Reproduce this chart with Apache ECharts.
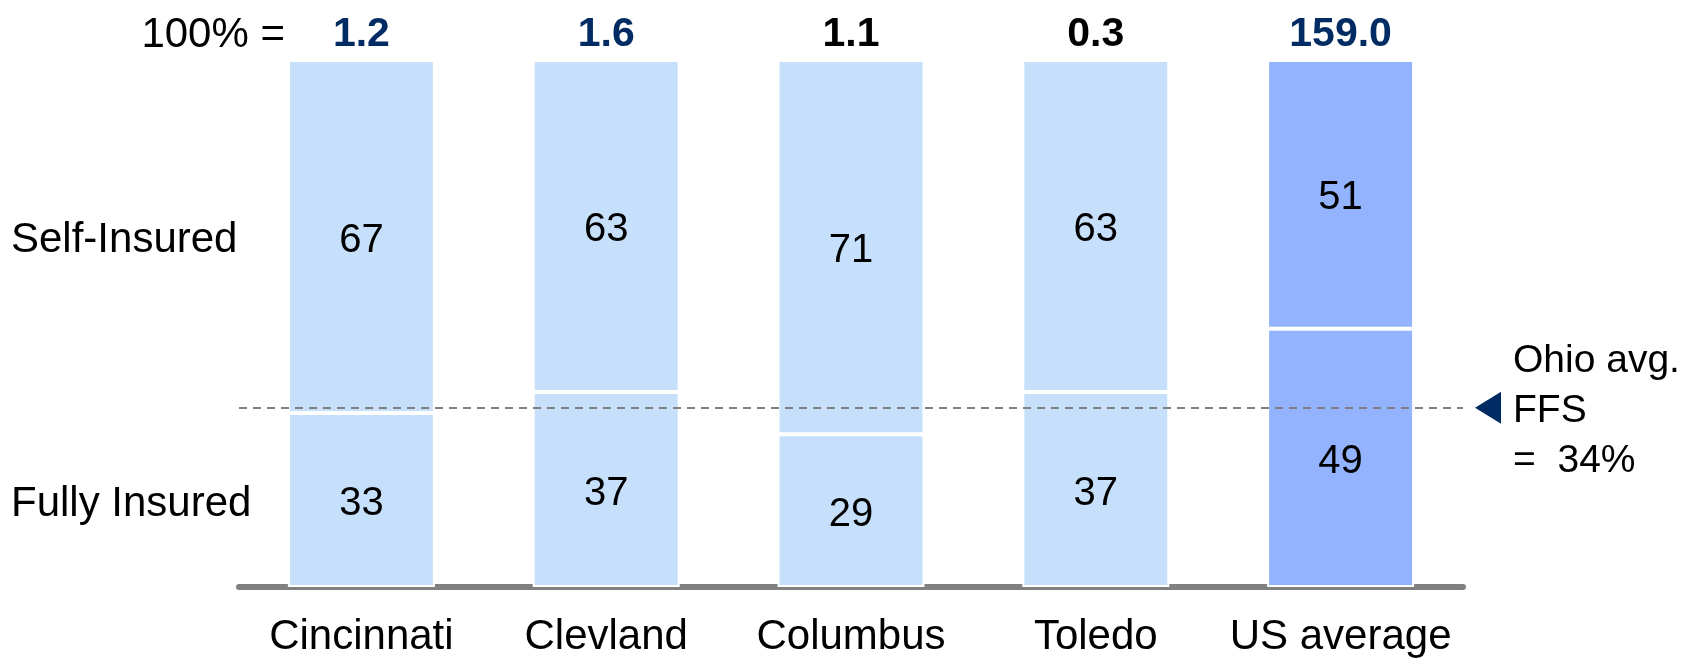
<!DOCTYPE html>
<html>
<head>
<meta charset="utf-8">
<script src="https://cdn.jsdelivr.net/npm/echarts@6/dist/echarts.min.js"></script>
<style>
  html, body { margin: 0; padding: 0; background: #ffffff; }
  #chart { width: 1696px; height: 658px; }
</style>
</head>
<body>
<div id="chart"></div>
<script>
// Market share of fully insured vs. self-insured lives, percent of 100%
const categories = ['Cincinnati', 'Clevland', 'Columbus', 'Toledo', 'US average'];
const totals = ['1.2', '1.6', '1.1', '0.3', '159.0'];
const fullyInsured = [33, 37, 29, 37, 49];
const selfInsured = [67, 63, 71, 63, 51];
const ohioAvgFFS = 34;
const rowLabels = ['Self-Insured', 'Fully Insured'];
const totalsPrefix = '100% =';
const ohioNoteLines = ['Ohio avg.', 'FFS', '=  ' + ohioAvgFFS + '%'];

// Styling
const FONT = '"Liberation Sans", Arial, Helvetica, sans-serif';
const NAVY = '#002B63';
const LIGHT_BAR = '#C6E0FB';
const US_BAR = '#94B3FF';
const totalColors = [NAVY, NAVY, '#000000', '#000000', NAVY];

const chart = echarts.init(document.getElementById('chart'), null, { renderer: 'canvas' });

function barData(values) {
  return values.map((v, i) => ({
    value: v,
    itemStyle: { color: i === categories.length - 1 ? US_BAR : LIGHT_BAR }
  }));
}

const segmentLabel = {
  show: true,
  position: 'inside',
  offset: [0, 4],
  fontSize: 40,
  color: '#000000',
  fontFamily: FONT
};

chart.setOption({
  animation: false,
  backgroundColor: '#ffffff',
  grid: { left: 239, right: 233, top: 60, bottom: 71, containLabel: false },
  xAxis: [
    {
      type: 'category',
      data: categories,
      position: 'bottom',
      axisLine: { show: true, lineStyle: { color: '#808080', width: 6 } },
      axisTick: { show: false },
      axisLabel: { interval: 0, fontSize: 42, color: '#000000', margin: 29, fontFamily: FONT }
    },
    {
      type: 'category',
      data: totals.map((t, i) => ({ value: t, textStyle: { color: totalColors[i] } })),
      position: 'top',
      axisLine: { show: false },
      axisTick: { show: false },
      axisLabel: { interval: 0, fontSize: 41, fontWeight: 'bold', margin: 5, fontFamily: FONT }
    }
  ],
  yAxis: { type: 'value', min: 0, max: 100, show: false },
  series: [
    {
      name: rowLabels[1],
      type: 'bar',
      stack: 'share',
      barWidth: 147,
      xAxisIndex: 0,
      data: barData(fullyInsured),
      itemStyle: { borderColor: '#ffffff', borderWidth: 2 },
      label: segmentLabel,
      markLine: {
        silent: true,
        symbol: 'none',
        z: 5,
        label: { show: false },
        lineStyle: { type: [8, 6], color: '#808080', width: 2 },
        data: [{ yAxis: ohioAvgFFS }]
      }
    },
    {
      name: rowLabels[0],
      type: 'bar',
      stack: 'share',
      barWidth: 147,
      xAxisIndex: 0,
      data: barData(selfInsured),
      itemStyle: { borderColor: '#ffffff', borderWidth: 2 },
      label: segmentLabel
    }
  ]
});

// Annotations placed through the chart's own coordinate system
const toPx = (i, v) => chart.convertToPixel({ xAxisIndex: 0, yAxisIndex: 0 }, [i, v]);
const gridTop = toPx(0, 100)[1];
const yOhio = toPx(0, ohioAvgFFS)[1];
const gridRight = chart.getWidth() - 233;
const arrowX = gridRight + 12;

chart.setOption({
  graphic: [
    {
      type: 'text',
      x: 285,
      y: gridTop - 25,
      style: { text: totalsPrefix, fontSize: 42, fontFamily: FONT, fill: '#000000', align: 'right', verticalAlign: 'middle' }
    },
    {
      type: 'text',
      x: 11,
      y: toPx(0, fullyInsured[0] + selfInsured[0] / 2)[1] + 4,
      style: { text: rowLabels[0], fontSize: 42, fontFamily: FONT, fill: '#000000', align: 'left', verticalAlign: 'middle' }
    },
    {
      type: 'text',
      x: 11,
      y: toPx(0, fullyInsured[0] / 2)[1] + 4,
      style: { text: rowLabels[1], fontSize: 42, fontFamily: FONT, fill: '#000000', align: 'left', verticalAlign: 'middle' }
    },
    {
      type: 'polygon',
      shape: { points: [[arrowX, yOhio], [arrowX + 26, yOhio - 16], [arrowX + 26, yOhio + 16]] },
      style: { fill: NAVY }
    },
    {
      type: 'text',
      x: arrowX + 38,
      y: yOhio + 3,
      style: { text: ohioNoteLines.join('\n'), fontSize: 39, lineHeight: 50, fontFamily: FONT, fill: '#000000', align: 'left', verticalAlign: 'middle' }
    }
  ]
});
</script>
</body>
</html>
